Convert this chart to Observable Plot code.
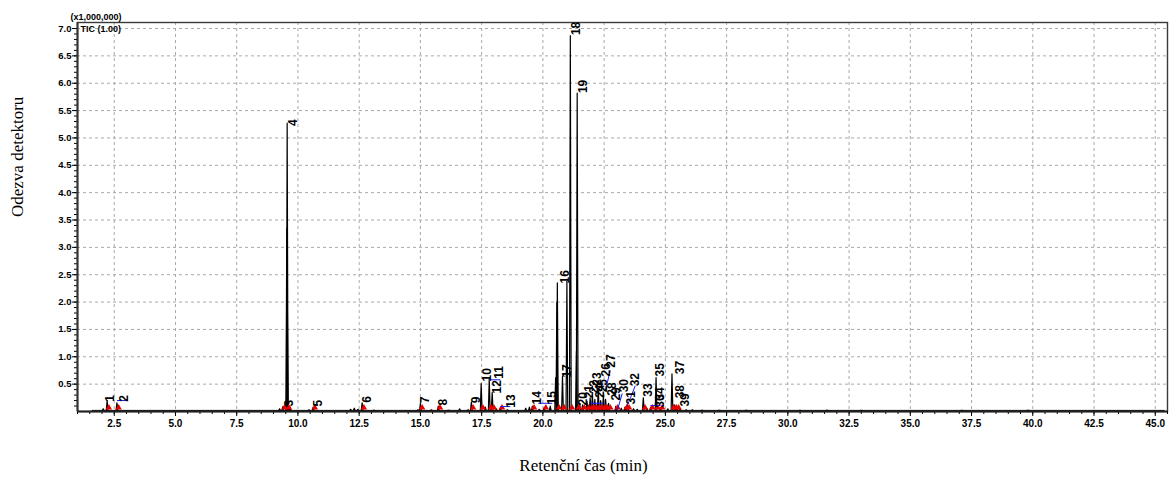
<!DOCTYPE html>
<html>
<head>
<meta charset="utf-8">
<script src="https://cdn.jsdelivr.net/npm/d3@7"></script>
<script src="https://cdn.jsdelivr.net/npm/@observablehq/plot@0.6"></script>
<style>
  body { margin: 0; background: #fff; }
  #chart svg { display: block; }
</style>
</head>
<body>
<div id="chart"></div>
<script>
// Labelled peaks of the TIC chromatogram: number, retention time (min), intensity (x1,000,000)
const peakNo = [1, 2, 3, 4, 5, 6, 7, 8, 9, 10, 11, 12, 13, 14, 15, 16, 17, 18, 19, 20,
  21, 22, 23, 24, 25, 26, 27, 28, 29, 30, 31, 32, 33, 34, 35, 36, 37, 38, 39];
const peakRT = [2.21, 2.61, 9.38, 9.56, 10.62, 12.62, 15.00, 15.73, 17.08, 17.48,
  17.81, 17.93, 18.26, 19.57, 20.05, 20.59, 20.80, 21.12, 21.40, 21.62,
  21.80, 21.93, 22.02, 22.12, 22.26, 22.36, 22.47, 22.56, 22.68, 22.98,
  23.35, 23.45, 24.10, 24.40, 24.62, 24.80, 25.27, 25.38, 25.47];
const peakHeight = [0.20, 0.16, 0.09, 5.27, 0.08, 0.16, 0.15, 0.10, 0.17, 0.51,
  0.60, 0.35, 0.07, 0.10, 0.07, 2.35, 0.65, 6.87, 5.82, 0.12,
  0.18, 0.25, 0.30, 0.22, 0.42, 0.20, 0.30, 0.22, 0.15, 0.10,
  0.08, 0.12, 0.25, 0.08, 0.62, 0.07, 0.69, 0.12, 0.09];

// Where each peak number is written (retention time, intensity of the label's foot)
const labelRT = [2.33, 2.90, 9.64, 9.80, 10.83, 12.83, 15.20, 15.93, 17.28, 17.73,
  18.22, 18.14, 18.71, 19.77, 20.38, 20.92, 21.00, 21.36, 21.65, 21.65,
  21.90, 22.10, 22.22, 22.35, 22.47, 22.60, 22.80, 22.84, 23.00, 23.32,
  23.60, 23.77, 24.30, 24.80, 24.80, 24.80, 25.60, 25.60, 25.82];
const labelLevel = [0.18, 0.18, 0.09, 5.22, 0.09, 0.16, 0.15, 0.11, 0.15, 0.55,
  0.60, 0.33, 0.07, 0.13, 0.13, 2.34, 0.62, 6.88, 5.82, 0.11,
  0.24, 0.33, 0.47, 0.25, 0.35, 0.64, 0.80, 0.29, 0.20, 0.35,
  0.13, 0.46, 0.27, 0.20, 0.64, 0.07, 0.68, 0.24, 0.09];

// Unlabelled bumps, shoulders and baseline noise: retention time, intensity
const minorRT = [2.05, 9.25, 9.545, 9.565, 9.68, 10.45, 12.15, 12.30, 12.45, 13.10,
  14.90, 15.45, 16.15, 16.60, 16.95, 17.65, 18.10, 18.55, 19.30, 19.45,
  19.85, 20.30, 20.52, 20.57, 20.98, 21.37, 21.50, 23.20, 23.70, 23.85,
  24.25, 25.10, 25.60, 25.85, 26.10, 26.50, 27.20, 28.30, 30.50, 31.60,
  33.00, 37.10, 39.80];
const minorHeight = [0.05, 0.05, 3.35, 2.10, 0.08, 0.03, 0.04, 0.06, 0.04, 0.02,
  0.03, 0.03, 0.02, 0.05, 0.03, 0.08, 0.05, 0.03, 0.06, 0.08,
  0.04, 0.10, 0.62, 2.00, 2.38, 1.10, 0.15, 0.06, 0.05, 0.04,
  0.05, 0.05, 0.04, 0.03, 0.03, 0.02, 0.02, 0.02, 0.015, 0.02,
  0.015, 0.015, 0.02];

// Leader lines joining shifted labels to their peaks: [rt1, y1, rt2, y2]
const leaders = [
  [2.61, 0.20, 3.06, 0.20],
  [17.85, 0.58, 18.26, 0.58],
  [18.26, 0.09, 18.67, 0.09],
  [19.81, 0.15, 20.38, 0.15],
  [21.94, 0.15, 22.47, 0.15],
  [22.55, 0.38, 22.75, 0.75],
  [23.04, 0.02, 23.24, 0.33],
  [23.45, 0.11, 23.77, 0.47],
  [24.39, 0.11, 24.80, 0.11]
];

// Axis ticks
const xMajor = d3.range(2.5, 45.01, 2.5);
const xMinor = d3.range(1.0, 45.51, 0.5);
const yMajor = d3.range(0.5, 7.01, 0.5);
const yMinor = d3.range(0.1, 7.05, 0.1);

const baseLevel = 0.02;
const halfWidth = 0.035;

const peaks = peakNo.map((n, i) => ({n, rt: peakRT[i], h: peakHeight[i], lx: labelRT[i], ly: labelLevel[i]}));
const minors = minorRT.map((rt, i) => ({n: "m" + i, rt, h: minorHeight[i]}));

// Each peak drawn as its own narrow spike rising from the baseline
const spikes = peaks.concat(minors).flatMap(p => [
  {id: p.n, t: p.rt - halfWidth, v: baseLevel},
  {id: p.n, t: p.rt, v: p.h},
  {id: p.n, t: p.rt + halfWidth, v: baseLevel}
]);

const sans = "'Liberation Sans', Arial, sans-serif";
const serif = "'Liberation Serif', 'Times New Roman', serif";

const chart = Plot.plot({
  width: 1171,
  height: 479,
  marginLeft: 77,
  marginRight: 4,
  marginTop: 22,
  marginBottom: 68,
  style: {fontFamily: sans, background: "white", color: "black"},
  x: {domain: [1, 45.5]},
  y: {domain: [0, 7.11]},
  marks: [
    Plot.gridX({ticks: xMajor, stroke: "#a9a9a9", strokeOpacity: 1, strokeDasharray: "3,3"}),
    Plot.gridY({ticks: yMajor, stroke: "#a9a9a9", strokeOpacity: 1, strokeDasharray: "3,3"}),
    Plot.frame({stroke: "#3a3a3a", strokeWidth: 1.4}),
    Plot.axisX({ticks: xMinor, tickSize: 3, tickFormat: () => "", label: null}),
    Plot.axisX({ticks: xMajor, tickSize: 5, tickPadding: 3, tickFormat: d => d.toFixed(1),
      fontSize: 10, fontWeight: "bold", label: null}),
    Plot.axisY({ticks: yMinor, tickSize: 3, tickFormat: () => "", label: null}),
    Plot.axisY({ticks: yMajor, tickSize: 5, tickPadding: 1, tickFormat: d => d.toFixed(1),
      fontSize: 9.5, fontWeight: "bold", label: null}),
    // baseline of the trace
    Plot.ruleY([baseLevel], {x1: 1.6, x2: 45.4, stroke: "black", strokeWidth: 1}),
    // the chromatogram
    Plot.line(spikes, {x: "t", y: "v", z: "id", stroke: "black", strokeWidth: 1.2}),
    // integration marks at the foot of each peak
    Plot.dot(peaks, {x: d => d.rt + 0.07, y: 0.07, symbol: "triangle", r: 2.4, fill: "#e60000", stroke: null}),
    // leader lines to displaced labels
    Plot.link(leaders, {x1: d => d[0], y1: d => d[1], x2: d => d[2], y2: d => d[3], stroke: "#1a1aff", strokeWidth: 1}),
    // peak numbers
    Plot.text(peaks, {x: "lx", y: "ly", text: d => String(d.n), rotate: -90, textAnchor: "start",
      fontSize: 12, fontWeight: "bold", fill: "black"}),
    // axis lines
    Plot.ruleX([1], {stroke: "#333", strokeWidth: 2}),
    Plot.ruleY([0], {stroke: "#222", strokeWidth: 2}),
    // header inside the top-left corner
    Plot.text(["(x1,000,000)"], {frameAnchor: "top-left", textAnchor: "start", dx: -7, dy: -9,
      fontSize: 9, fontWeight: "bold"}),
    Plot.text(["TIC (1.00)"], {frameAnchor: "top-left", textAnchor: "start", dx: 3, dy: 3,
      fontSize: 9, fontWeight: "bold"}),
    // axis titles
    Plot.text(["Odezva detektoru"], {frameAnchor: "left", rotate: -90, dx: -60,
      fontFamily: serif, fontSize: 17}),
    Plot.text(["Retenční čas (min)"], {frameAnchor: "bottom", dx: -39, dy: 59,
      fontFamily: serif, fontSize: 17})
  ]
});

document.getElementById("chart").appendChild(chart);
</script>
</body>
</html>
